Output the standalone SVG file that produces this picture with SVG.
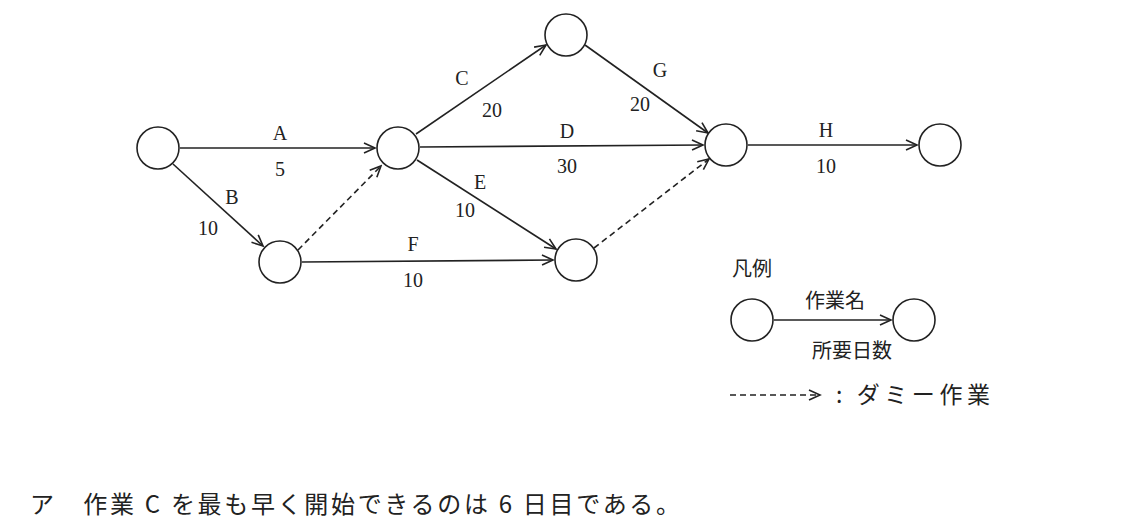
<svg xmlns="http://www.w3.org/2000/svg" width="1145" height="526" viewBox="0 0 1145 526">
<style>
.n{fill:#fff;stroke:#222;stroke-width:1.6}
.e{stroke:#222;stroke-width:1.6;fill:none;marker-end:url(#ah)}
.d{stroke-dasharray:6,4}
text{font-family:"Liberation Serif","Noto Sans CJK JP",serif;font-size:20px;fill:#222;text-anchor:middle}
.j{font-family:"Noto Sans CJK JP",sans-serif;font-size:20px}
</style>
<defs><marker id="ah" markerWidth="14" markerHeight="12" refX="12" refY="6" orient="auto" markerUnits="userSpaceOnUse"><path d="M1,1 L12,6 L1,11" fill="none" stroke="#222" stroke-width="1.6"/></marker></defs>
<rect width="1145" height="526" fill="#fff"/>
<g id="connectors">
<line class="e" x1="180" y1="148" x2="375" y2="148"/>
<line class="e" x1="173" y1="164" x2="263" y2="246"/>
<line class="e d" x1="298" y1="250" x2="381" y2="166"/>
<line class="e" x1="416" y1="134" x2="546" y2="45"/>
<line class="e" x1="420" y1="147" x2="703" y2="145"/>
<line class="e" x1="417" y1="160" x2="556" y2="249"/>
<line class="e" x1="302" y1="262" x2="553" y2="260"/>
<line class="e" x1="585" y1="45" x2="708" y2="133"/>
<line class="e d" x1="594" y1="248" x2="709" y2="159"/>
<line class="e" x1="748" y1="145" x2="917" y2="145"/>
<line class="e" x1="774" y1="320" x2="891" y2="320"/>
<line class="e d" x1="730" y1="395" x2="820" y2="395"/>
</g>
<g id="labels">
<text x="280" y="140">A</text><text x="280" y="176">5</text>
<text x="232" y="204">B</text><text x="208" y="235">10</text>
<text x="462" y="85">C</text><text x="492" y="117">20</text>
<text x="567" y="138">D</text><text x="567" y="173">30</text>
<text x="480" y="189">E</text><text x="465" y="217">10</text>
<text x="413" y="251">F</text><text x="413" y="287">10</text>
<text x="660" y="77">G</text><text x="640" y="111">20</text>
<text x="826" y="137">H</text><text x="826" y="173">10</text>
</g>
<g id="N1"><circle class="n" cx="158" cy="148" r="21"/></g>
<g id="N2"><circle class="n" cx="398" cy="148" r="21"/></g>
<g id="N3"><circle class="n" cx="566" cy="35" r="21"/></g>
<g id="N4"><circle class="n" cx="726" cy="145" r="21"/></g>
<g id="N5"><circle class="n" cx="940" cy="145" r="21"/></g>
<g id="N6"><circle class="n" cx="280" cy="262" r="21"/></g>
<g id="N7"><circle class="n" cx="576" cy="260" r="21"/></g>
<g id="legend">
<text class="j" x="752" y="276">凡例</text>
<circle class="n" cx="752" cy="320" r="21"/>
<circle class="n" cx="914" cy="320" r="21"/>
<text class="j" x="835" y="308">作業名</text>
<text class="j" x="852" y="358">所要日数</text>
<text class="j" x="836" y="403" style="text-anchor:start;font-size:23px" textLength="154" lengthAdjust="spacing">: ダミー作業</text>
</g>
<text class="j" x="30" y="513" style="text-anchor:start;font-size:24px" textLength="650" lengthAdjust="spacing">ア　作業 C を最も早く開始できるのは 6 日目である。</text>
</svg>
